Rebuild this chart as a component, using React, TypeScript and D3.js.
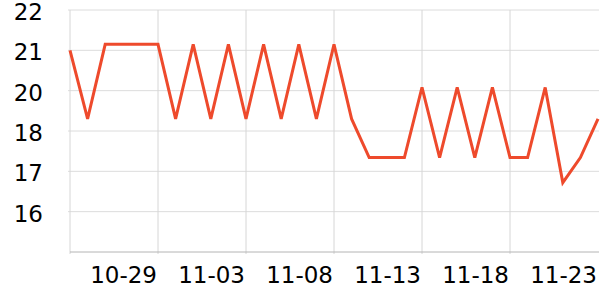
import React from "react";
import * as d3 from "d3";

const dates: string[] = [
  "10-24","10-25","10-26","10-27","10-28","10-29","10-30","10-31","11-01","11-02",
  "11-03","11-04","11-05","11-06","11-07","11-08","11-09","11-10","11-11","11-12",
  "11-13","11-14","11-15","11-16","11-17","11-18","11-19","11-20","11-21","11-22","11-23",
];
const values: number[] = [
  21.0, 18.6, 21.15, 21.15, 21.15, 21.15, 18.6, 21.15, 18.6, 21.15,
  18.6, 21.15, 18.6, 21.15, 18.6, 21.15, 18.6, 17.34, 17.34, 17.34,
  20.08, 17.34, 20.08, 17.34, 20.08, 17.34, 17.34, 20.08, 16.72, 17.34, 18.6,
];
const yTickValues: number[] = [22, 21, 20, 18, 17, 16];
const yDomainStops: number[] = [15, 16, 17, 18, 20, 21, 22];
const xLabelIdx: number[] = [5, 10, 15, 20, 25, 30];
const xGridIdx: number[] = [0, 5, 10, 15, 20, 25];

const W = 600, H = 300;
const left = 70, right = 598, top = 10, bottom = 252;
const FONT = "'DejaVu Sans', sans-serif";

export default function App() {
  const x = d3.scaleLinear().domain([0, dates.length - 1]).range([left, right]);
  const step = (bottom - top) / (yDomainStops.length - 1);
  const y = d3
    .scaleLinear()
    .domain(yDomainStops)
    .range(yDomainStops.map((_, i) => bottom - i * step));
  const line = d3
    .line<number>()
    .x((_, i) => x(i))
    .y((d) => y(d));

  return (
    <svg width={W} height={H} style={{ position: "absolute", left: 0, top: 0 }}>
      <rect width={W} height={H} fill="#fff" />
      {/* horizontal grid */}
      {[22, ...yTickValues.slice(1)].map((v) => (
        <line key={"h" + v} x1={left - 2} x2={right + 1} y1={y(v)} y2={y(v)} stroke="#dcdcdc" strokeWidth={1} />
      ))}
      {/* vertical grid */}
      {xGridIdx.map((i) => (
        <line key={"v" + i} x1={x(i)} x2={x(i)} y1={top} y2={bottom + 2} stroke="#d6d6d6" strokeWidth={1} />
      ))}
      {/* bottom axis */}
      <line x1={left} x2={right + 1} y1={bottom} y2={bottom} stroke="#b4b4b4" strokeWidth={1} />
      {/* y labels */}
      {yTickValues.map((v) => (
        <text key={"yl" + v} x={43} y={y(v) + 10} textAnchor="end" fontFamily={FONT} fontSize={23} fill="#000">
          {v}
        </text>
      ))}
      {/* x labels */}
      {xLabelIdx.map((i) => (
        <text key={"xl" + i} x={x(i) - 1} y={bottom + 31} textAnchor="end" fontFamily={FONT} fontSize={23} fill="#000">
          {dates[i]}
        </text>
      ))}
      <path d={line(values) || ""} fill="none" stroke="#ee4a2c" strokeWidth={3} strokeLinejoin="miter" />
    </svg>
  );
}
